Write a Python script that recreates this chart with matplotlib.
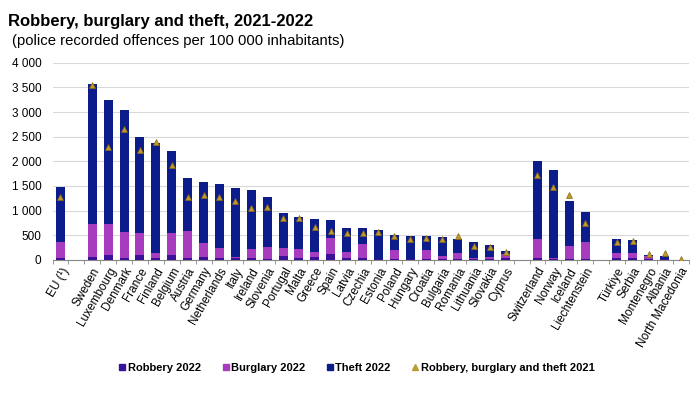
import numpy as np
import matplotlib
matplotlib.use("Agg")
import matplotlib.pyplot as plt
from matplotlib.ticker import FuncFormatter, MultipleLocator
from matplotlib.lines import Line2D

plt.rcParams['font.family'] = ['Liberation Sans', 'DejaVu Sans']

# "" = empty slot between country groups
countries = ["EU (¹)", "", "Sweden", "Luxembourg", "Denmark", "France", "Finland",
             "Belgium", "Austria", "Germany", "Netherlands", "Italy", "Ireland",
             "Slovenia", "Portugal", "Malta", "Greece", "Spain", "Latvia", "Czechia",
             "Estonia", "Poland", "Hungary", "Croatia", "Bulgaria", "Romania",
             "Lithuania", "Slovakia", "Cyprus", "", "Switzerland", "Norway", "Iceland",
             "Liechtenstein", "", "Türkiye", "Serbia", "Montenegro", "Albania",
             "North Macedonia"]

robbery_2022 = [45, None, 60, 100, 30, 100, 30, 90, 35, 55, 35, 40, 30, 15, 81, 30, 60,
                122, 30, 30, 15, 20, 15, 15, 15, 15, 15, 15, 30, None, 30, 20, 15, 10,
                None, 30, 30, 20, 10, 0]
burglary_2022 = [313, None, 670, 630, 531, 440, 119, 450, 553, 296, 201, 20, 186, 255,
                 169, 193, 109, 324, 139, 294, 5, 183, 5, 188, 66, 120, 32, 53, 92, None,
                 396, 10, 275, 348, None, 105, 105, 68, 17, 0]
theft_2022 = [1128, None, 2838, 2513, 2479, 1947, 2216, 1676, 1067, 1237, 1305, 1406,
              1203, 1014, 696, 655, 655, 358, 486, 331, 588, 297, 466, 283, 392, 297, 325,
              229, 67, None, 1581, 1794, 906, 622, None, 284, 270, 13, 61, 0]
total_2021 = [1283, None, 3547, 2284, 2649, 2230, 2399, 1919, 1284, 1318, 1284, 1203,
              1061, 1081, 845, 858, 676, 581, 554, 554, 574, 486, 432, 439, 419, 486,
              290, 270, 155, None, 1723, 1473, 1318, 743, None, 372, 392, 122, 135, 27]

c_rob = "#3a129a"
c_bur = "#a83cbf"
c_theft = "#0c1c8a"
c_tri = "#c09a2e"

rob = np.array(robbery_2022, dtype=float)
bur = np.array(burglary_2022, dtype=float)
theft = np.array(theft_2022, dtype=float)
tot21 = np.array(total_2021, dtype=float)
x = np.arange(len(countries))

fig = plt.figure(figsize=(7, 3.95), dpi=100)
ax = fig.add_axes([0.075, 0.342, 0.9086, 0.499])

w = 0.57
ax.bar(x, rob, w, color=c_rob, zorder=3)
ax.bar(x, bur, w, bottom=rob, color=c_bur, zorder=3)
ax.bar(x, theft, w, bottom=rob + bur, color=c_theft, zorder=3)
ax.plot(x, tot21, linestyle="none", marker="^", markersize=5, color=c_tri,
        markeredgecolor="#8a6a10", markeredgewidth=0.5, zorder=4)

ax.set_xlim(-0.5, len(countries) - 0.5)
ax.set_ylim(0, 4000)
ax.yaxis.set_major_locator(MultipleLocator(500))
ax.yaxis.set_major_formatter(FuncFormatter(lambda v, p: f"{int(v):,}".replace(",", " ")))
ax.grid(axis="y", color="#d9d9d9", linewidth=0.8, zorder=0)

ax.set_xticks(x)
ax.set_xticklabels(countries, rotation=60, ha="right", rotation_mode="anchor", fontsize=8.5)
ax.tick_params(axis="x", length=0, pad=4)
ax.set_xticks(np.arange(-0.5, len(countries)), minor=True)
ax.tick_params(axis="x", which="minor", length=3, color="#888888")
ax.tick_params(axis="y", length=0, labelsize=8.5, pad=8)

for s in ["top", "right", "left"]:
    ax.spines[s].set_visible(False)
ax.spines["bottom"].set_color("#888888")

fig.text(0.011, 0.965, "Robbery, burglary and theft, 2021-2022", fontsize=12,
         fontweight="bold", va="top")
fig.text(0.017, 0.915, "(police recorded offences per 100 000 inhabitants)", fontsize=10.7,
         va="top")

handles = [Line2D([], [], linestyle="none", marker="s", markersize=4, color=c_rob),
           Line2D([], [], linestyle="none", marker="s", markersize=4, color=c_bur),
           Line2D([], [], linestyle="none", marker="s", markersize=4, color=c_theft),
           Line2D([], [], linestyle="none", marker="^", markersize=4, color=c_tri)]
fig.legend(handles, ["Robbery 2022", "Burglary 2022", "Theft 2022",
                     "Robbery, burglary and theft 2021"],
           loc="center", bbox_to_anchor=(0.509, 0.068), ncol=4, frameon=False,
           prop={"size": 8, "weight": "bold"}, handletextpad=0.1, columnspacing=1.8,
           handlelength=0.8)

fig.savefig("out.png", dpi=100)
